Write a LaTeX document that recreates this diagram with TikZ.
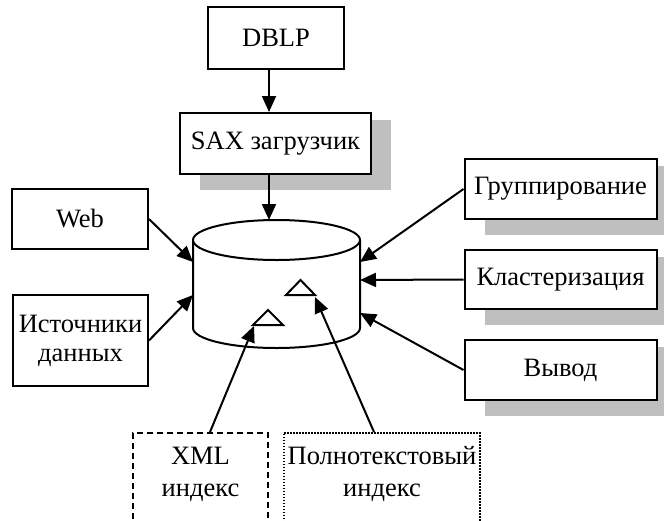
\documentclass[tikz,border=0pt]{standalone}
\usepackage{fontspec}
\setmainfont{Liberation Serif}
\usetikzlibrary{arrows.meta}
\usetikzlibrary{calc}
\usetikzlibrary{backgrounds}
\colorlet{shadowgray}{black!25}
\tikzstyle{blk}=[draw,line width=2pt,fill=white,inner sep=0pt,align=center]
\tikzstyle{flow}=[line width=2pt,-{Triangle[length=16pt,width=14pt]}]
\tikzstyle{idx}=[line width=2pt,fill=white,line join=miter]
\newcommand\boxshadow[1]{\fill[shadowgray] ($(#1.south west)+(21,15)$) rectangle ($(#1.north east)+(19,8)$);}

\begin{document}
\begin{tikzpicture}[x=1pt,y=-1pt,font=\fontsize{26.5}{29}\selectfont]
	\useasboundingbox (0,0) rectangle (664,520);
	\clip (0,0) rectangle (664,520);
	% boxes
	\node[blk,minimum width=136,minimum height=62] (dblp) at (276,38) {DBLP};
	\node[blk,minimum width=191,minimum height=61] (sax) at (275.5,143.5) {SAX загрузчик};
	\node[blk,minimum width=136,minimum height=60] (web) at (80,219) {Web};
	\node[blk,minimum width=135,minimum height=91] (src) at (80.5,340.5) {Источники\\данных};
	\node[blk,minimum width=192,minimum height=60] (grp) at (560.5,189) {Группирование};
	\node[blk,minimum width=192,minimum height=59] (cls) at (560.5,279.5) {Кластеризация};
	\node[blk,minimum width=192,minimum height=60] (out) at (560.5,370) {Вывод};
	\node[blk,dash pattern=on 6pt off 4pt,minimum width=135,minimum height=120,anchor=north] (xml) at (200.5,432) {};
	\node[blk,line width=1.6pt,dash pattern=on 1.6pt off 1.4pt,minimum width=196,minimum height=120,anchor=north] (full) at (382,432) {};
	\node[align=center] (xmltxt) at (200.5,474) {XML\\[3pt]индекс};
	\node[align=center] (fulltxt) at (382,474) {Полнотекстовый\\[3pt]индекс};
	\begin{scope}[on background layer]
		\boxshadow{sax}
		\boxshadow{grp}
		\boxshadow{cls}
		\boxshadow{out}
	\end{scope}
	% database
	\draw[idx] (193,240) -- (193,328) arc[start angle=180,end angle=0,x radius=83.5,y radius=20] -- (360,240);
	\draw[idx] (276.5,240) ellipse [x radius=83.5,y radius=20];
	\draw[idx] (268,310) -- (283,325) -- (253,325) -- cycle;
	\draw[idx] (300.5,280) -- (315,295) -- (286,295) -- cycle;
	\coordinate (dbtop) at (269,220);
	\coordinate (dbw1) at (193,262);
	\coordinate (dbw2) at (193,295);
	\coordinate (dbe1) at (360,262);
	\coordinate (dbe2) at (360,280);
	\coordinate (dbe3) at (360,313);
	\coordinate (ixA) at (254,326);
	\coordinate (ixB) at (315,297);
	% arrows
	\draw[flow] (dblp.south -| dbtop) -- (sax.north -| dbtop);
	\draw[flow] (sax.south -| dbtop) -- (dbtop);
	\draw[flow] (web.east) -- (dbw1);
	\draw[flow] (src.east) -- (dbw2);
	\draw[flow] (grp.west) -- (dbe1);
	\draw[flow] (cls.west) -- (dbe2);
	\draw[flow] (out.west) -- (dbe3);
	\draw[flow] ($(xml.north)+(9.5,0)$) -- (ixA);
	\draw[flow] ($(full.north)+(-8,0)$) -- (ixB);
\end{tikzpicture}
\end{document}
